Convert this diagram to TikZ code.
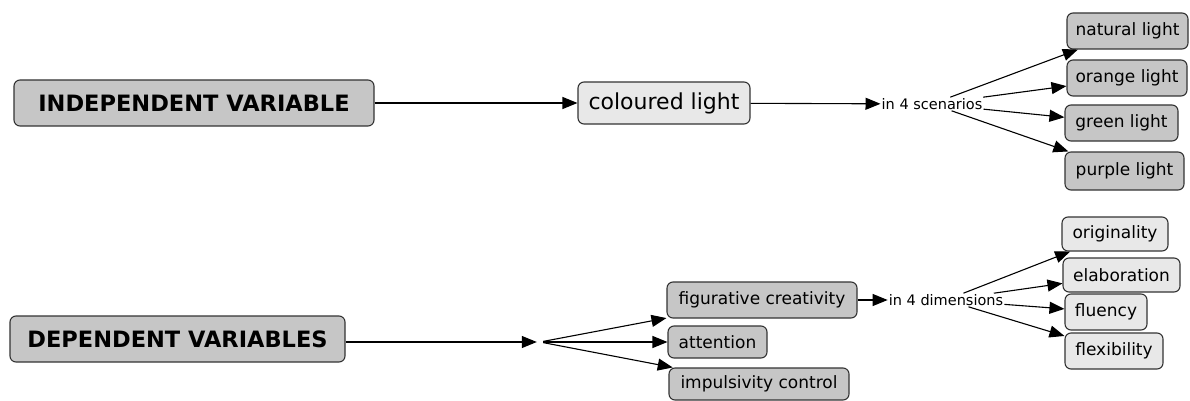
\documentclass[tikz,border=0pt]{standalone}
\usepackage{fontspec}
\setmainfont{DejaVu Sans}
\usetikzlibrary{arrows.meta}
\begin{document}
\begin{tikzpicture}[x=1pt,y=-1pt,
  box/.style={draw=black!80, line width=1.1pt, rounded corners=6pt, inner sep=0pt, align=center},
  dark/.style={box, fill=gray!45},
  light/.style={box, fill=gray!18},
  big/.style={font=\fontsize{22.5}{24}\selectfont\bfseries},
  mid/.style={font=\fontsize{17}{19}\selectfont},
  lbl/.style={font=\fontsize{14.5}{16}\selectfont, inner sep=1pt},
  arr/.style={-{Triangle[length=15pt,width=12pt]}, line width=1.1pt},
  ln/.style={line width=1.1pt}]
\useasboundingbox (0,0) rectangle (1190,401);
% top row
\node[dark, big, minimum width=360pt, minimum height=46pt] (iv) at (194,103) {INDEPENDENT VARIABLE};
\node[light, font=\fontsize{22}{24}\selectfont, minimum width=172pt, minimum height=42pt] (cl) at (664,103) {coloured light};
\node[lbl] (sc) at (932,104) {in 4 scenarios};
\node[dark, mid, minimum width=121pt, minimum height=36pt] (nat) at (1127.5,31) {natural light};
\node[dark, mid, minimum width=120pt, minimum height=36pt] (ora) at (1127,78) {orange light};
\node[dark, mid, minimum width=113pt, minimum height=36pt] (gre) at (1121.5,123) {green light};
\node[dark, mid, minimum width=119pt, minimum height=38pt] (pur) at (1124.5,171) {purple light};
\draw[arr] (iv) -- (cl);
\draw[arr] (cl) -- (sc);
\draw[arr] (sc) -- (nat);
\draw[arr] (sc) -- (ora);
\draw[arr] (sc) -- (gre);
\draw[arr] (sc) -- (pur);
% bottom row
\node[dark, big, minimum width=335pt, minimum height=46pt] (dv) at (177.5,339) {DEPENDENT VARIABLES};
\node[inner sep=0pt, minimum size=6pt] (bp) at (540,342) {};
\node[dark, mid, minimum width=190pt, minimum height=36pt] (fig) at (762,300) {figurative creativity};
\node[dark, mid, minimum width=99pt, minimum height=32pt] (att) at (717.5,342) {attention};
\node[dark, mid, minimum width=180pt, minimum height=32pt] (imp) at (759,384) {impulsivity control};
\node[lbl] (dim) at (946,300) {in 4 dimensions};
\node[light, mid, minimum width=106pt, minimum height=34pt] (ori) at (1115,234) {originality};
\node[light, mid, minimum width=117pt, minimum height=34pt] (ela) at (1121.5,275) {elaboration};
\node[light, mid, minimum width=82pt, minimum height=36pt] (flu) at (1106,312) {fluency};
\node[light, mid, minimum width=98pt, minimum height=36pt] (fle) at (1114,351) {flexibility};
\draw[arr] (dv.east |- bp) -- (bp);
\draw[arr] (bp) -- (fig);
\draw[arr] (bp) -- (att);
\draw[arr] (bp) -- (imp);
\draw[arr] (fig) -- (dim);
\draw[arr] (dim) -- (ori);
\draw[arr] (dim) -- (ela);
\draw[arr] (dim) -- (flu);
\draw[arr] (dim) -- (fle);
\end{tikzpicture}
\end{document}
